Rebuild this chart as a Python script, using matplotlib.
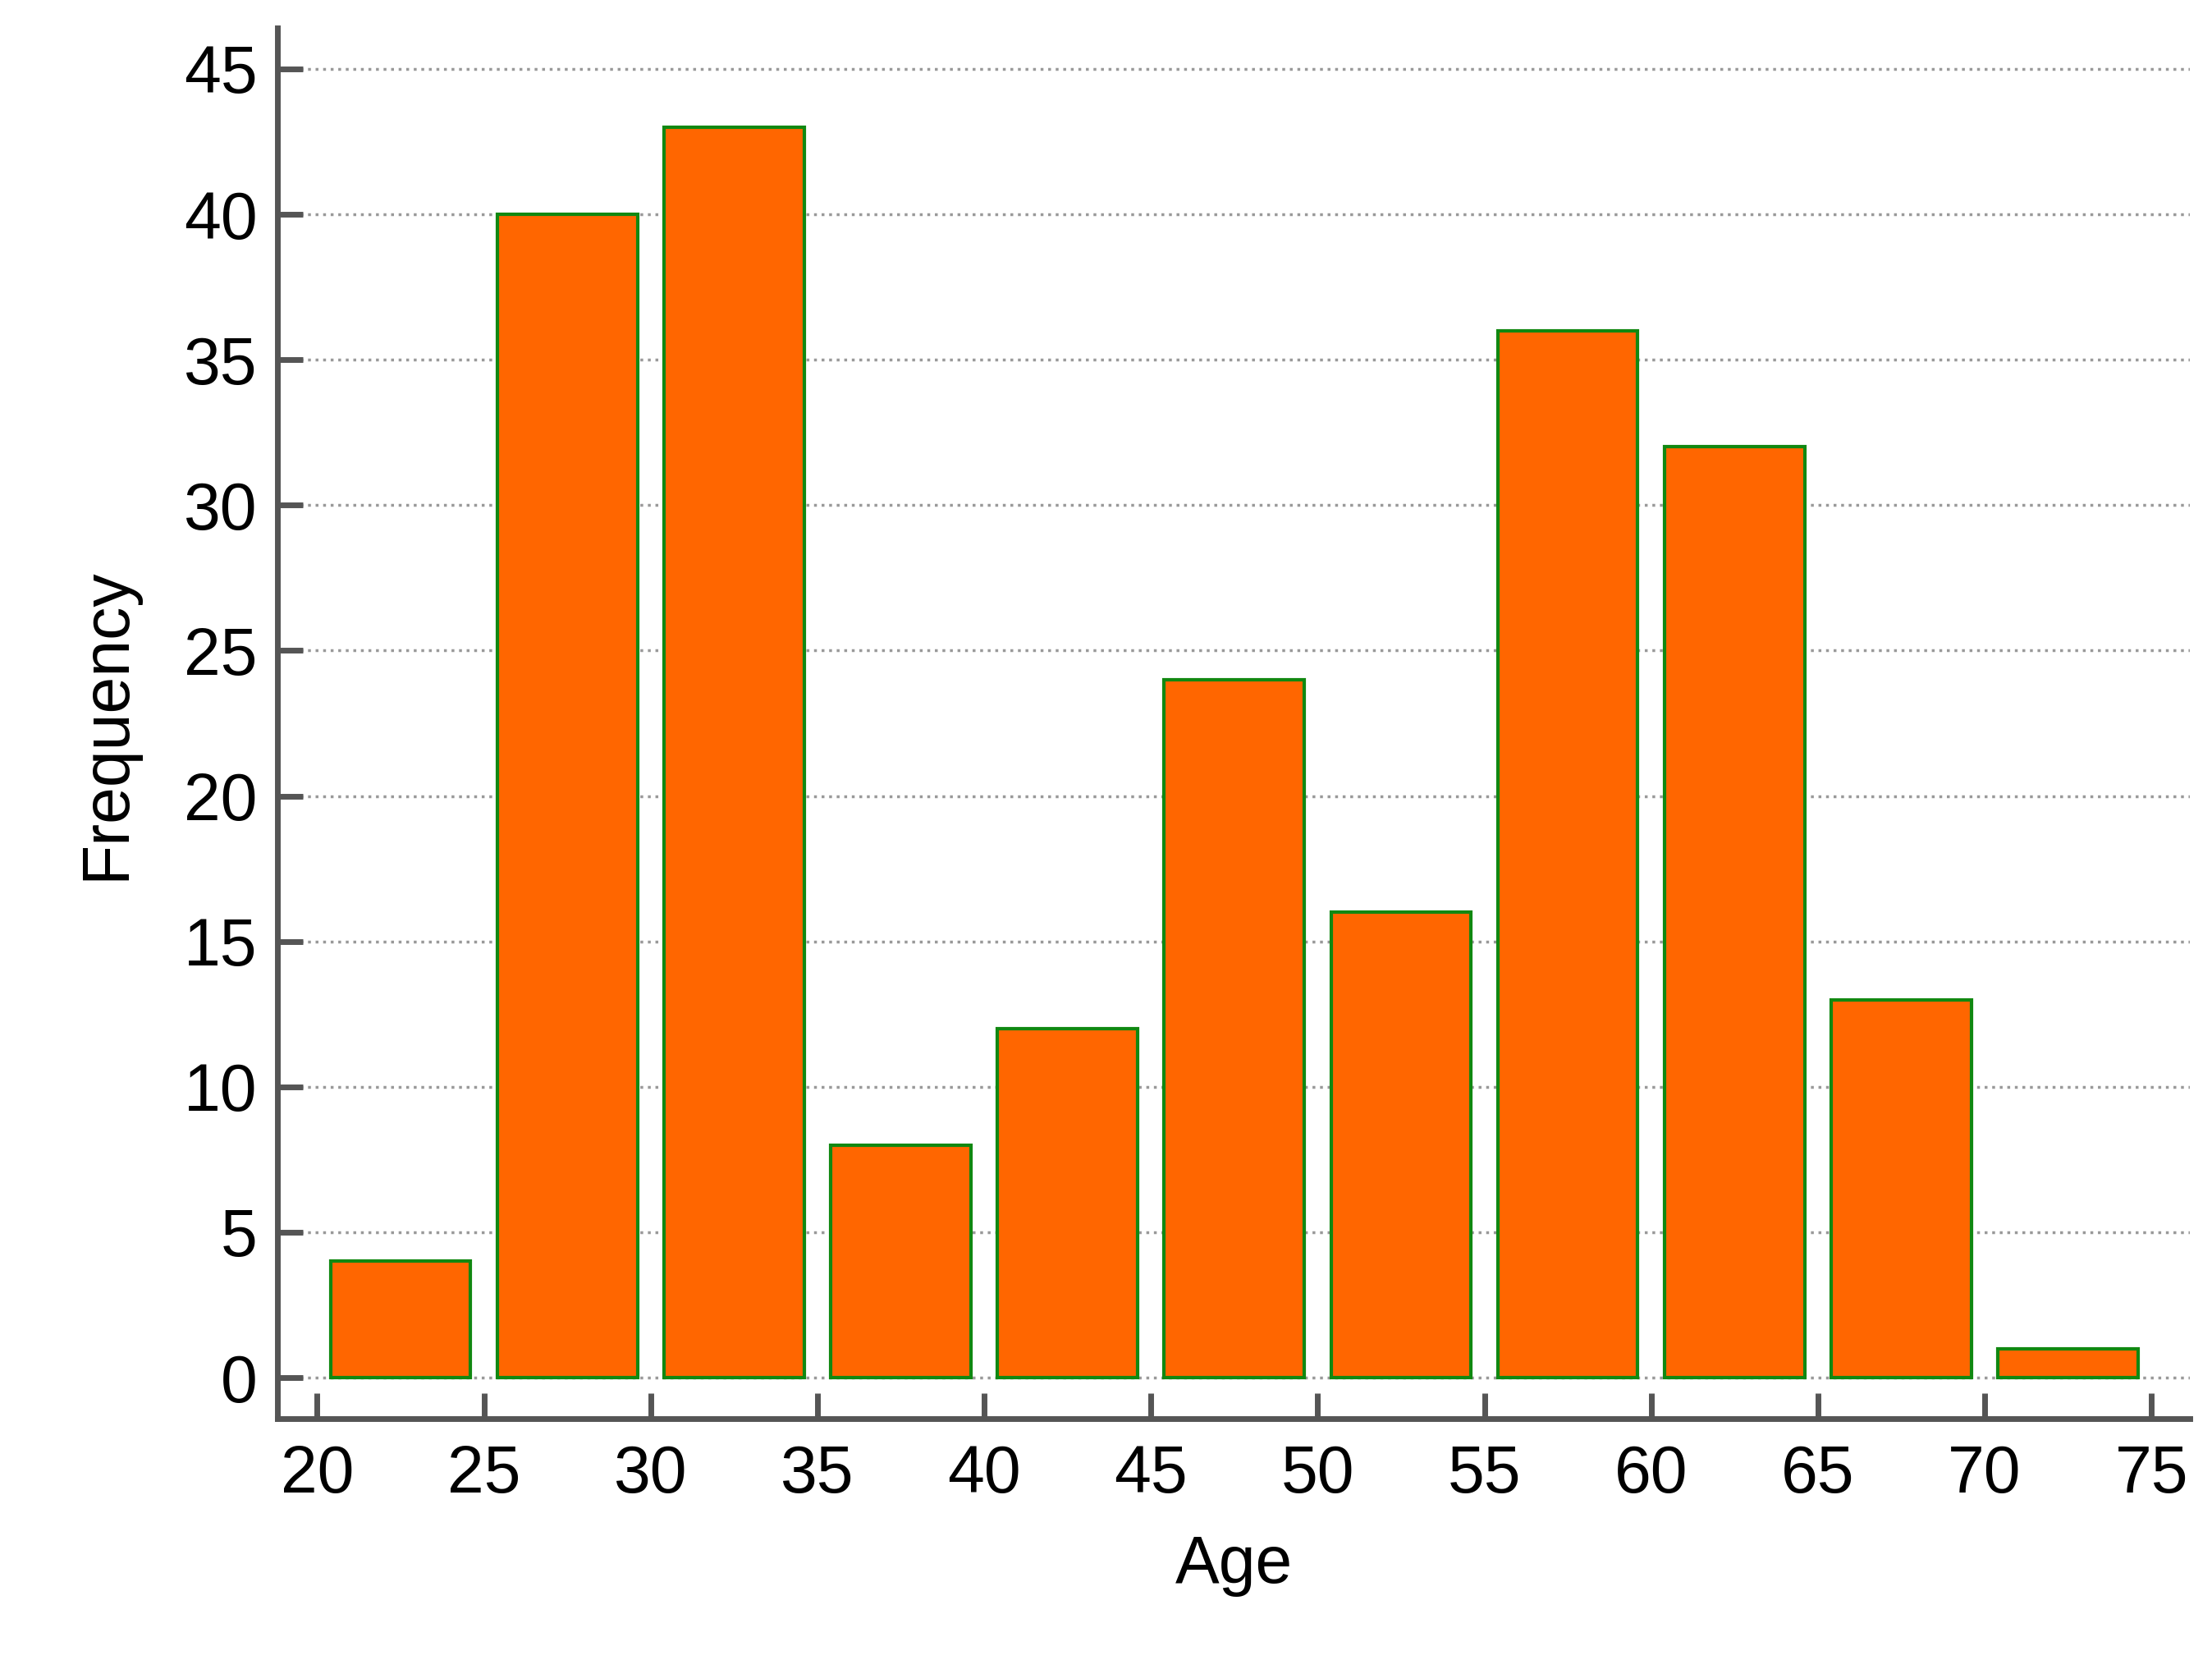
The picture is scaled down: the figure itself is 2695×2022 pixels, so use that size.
import numpy as np
import matplotlib.pyplot as plt

plt.rcParams['font.family'] = ['Liberation Sans', 'DejaVu Sans']

# data
bin_left = [20, 25, 30, 35, 40, 45, 50, 55, 60, 65, 70]
counts = [4, 40, 43, 8, 12, 24, 16, 36, 32, 13, 1]
x_ticks = list(range(20, 80, 5))
y_ticks = list(range(0, 50, 5))

fig = plt.figure(figsize=(26.95, 20.22), dpi=100)
ax = fig.add_axes([0.1256, 0.1454, 0.8642, 0.8376])

centers = np.array(bin_left) + 2.5
ax.bar(centers, counts, width=4.2, color='#FF6600', edgecolor='#118811', linewidth=3, zorder=3)

ax.set_xlim(18.82, 76.14)
ax.set_ylim(-1.41, 46.4)
ax.set_xticks(x_ticks)
ax.set_yticks(y_ticks)
ax.yaxis.grid(True, linestyle=':', color='#999999', linewidth=2.5, zorder=0)

for s in ['top', 'right']:
    ax.spines[s].set_visible(False)
for s in ['left', 'bottom']:
    ax.spines[s].set_color('#555555')
    ax.spines[s].set_linewidth(5)

ax.tick_params(axis='both', direction='in', length=22, width=5, color='#555555',
               labelsize=58, pad=22)
ax.tick_params(axis='y', pad=18)

ax.set_xlabel('Age', fontsize=58, labelpad=25)
ax.set_ylabel('Frequency', fontsize=58, labelpad=40)

fig.savefig('out.png', dpi=100, facecolor='white')
